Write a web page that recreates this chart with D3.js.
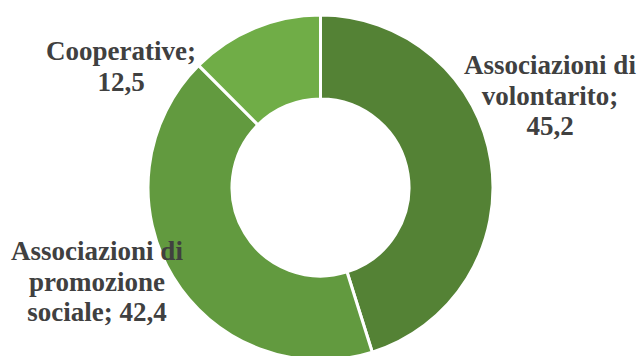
<!DOCTYPE html>
<html>
<head>
<meta charset="utf-8">
<script src="https://cdn.jsdelivr.net/npm/d3@7"></script>
<style>
  html, body { margin: 0; padding: 0; background: #fff; }
  svg { display: block; }
</style>
</head>
<body>
<svg id="chart"></svg>
<script>
const categories = ["Associazioni di volontarito", "Associazioni di promozione sociale", "Cooperative"];
const values = [45.2, 42.4, 12.5];
const colors = ["#548235", "#629a3f", "#70ad47"];
// label lines as they wrap in the picture
const labelLines = [
  ["Associazioni di", "volontarito;", "45,2"],
  ["Associazioni di", "promozione", "sociale; 42,4"],
  ["Cooperative;", "12,5"]
];

const width = 637;
const height = 356;
const cx = 320.5, cy = 187.5;
const outerR = 172.5, innerR = 88.5;

const svg = d3.select("#chart")
    .attr("width", width)
    .attr("height", height);

const pie = d3.pie().sort(null).value(d => d);
const arc = d3.arc().innerRadius(innerR).outerRadius(outerR);

const g = svg.append("g").attr("transform", `translate(${cx},${cy})`);

g.selectAll("path")
    .data(pie(values))
    .enter().append("path")
    .attr("d", arc)
    .attr("fill", (d, i) => colors[i])
    .attr("stroke", "#fff")
    .attr("stroke-width", 3)
    .attr("stroke-linejoin", "miter");

// label anchor positions (centre of the text block, first baseline)
const labelPos = [[550, 74], [97, 260], [121, 60]];
const lineH = 30.5;

// one text element per line
const lines = [];
labelLines.forEach((ls, i) => ls.forEach((t, j) => {
    lines.push({ t: t, x: labelPos[i][0], y: labelPos[i][1] + j * lineH });
}));

svg.append("g")
    .selectAll("text")
    .data(lines)
    .enter().append("text")
    .attr("x", d => d.x)
    .attr("y", d => d.y)
    .attr("text-anchor", "middle")
    .attr("font-family", "Liberation Serif")
    .attr("font-weight", "bold")
    .attr("font-size", 27)
    .attr("fill", "#404040")
    .text(d => d.t);
</script>
</body>
</html>
